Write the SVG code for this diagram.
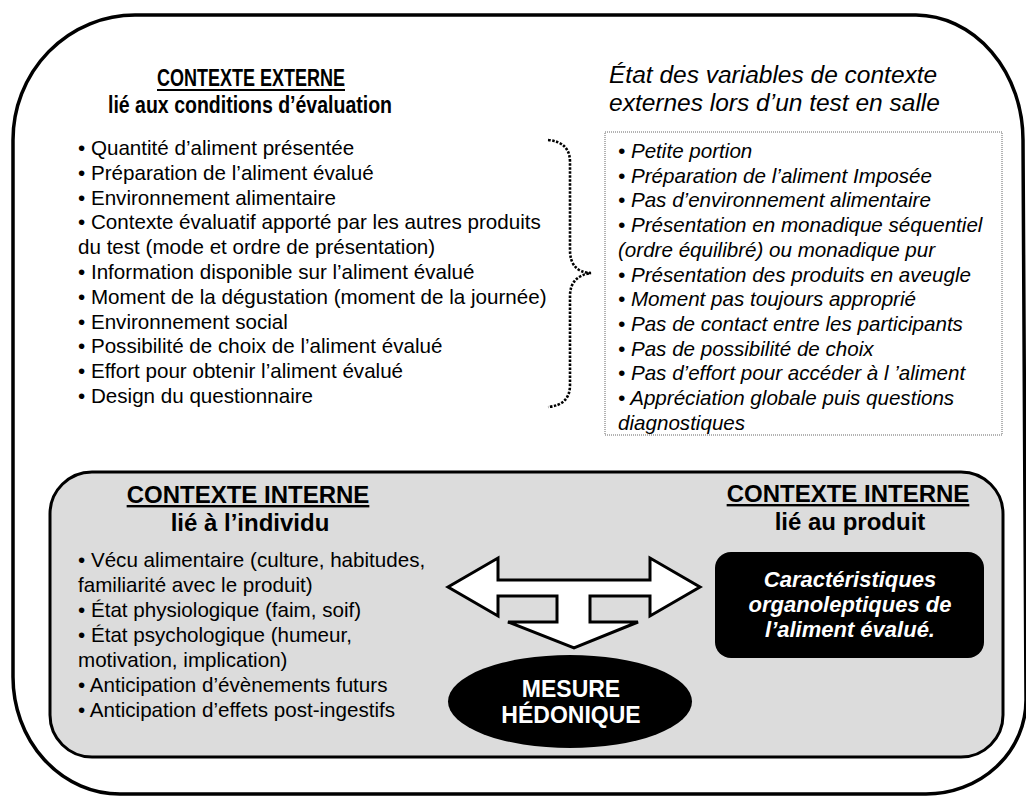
<svg xmlns="http://www.w3.org/2000/svg" width="1026" height="796" viewBox="0 0 1026 796">
<style>
text{font-family:"Liberation Sans",Arial,sans-serif;fill:#000}
.t{font-size:24px;font-weight:bold;text-anchor:middle}
.tn{font-size:23px;font-weight:bold}
.u{text-decoration:underline}
.b{font-size:20.6px}
.i{font-size:20.6px;font-style:italic}
.h{font-size:24.5px;font-style:italic}
.w{fill:#fff;font-weight:bold;text-anchor:middle}
</style>
<rect width="1026" height="796" fill="#fff"/>
<g id="outer">
<path d="M135,15 L916,15 A108,125 0 0 1 1023,140 L1026,700 A100,94 0 0 1 926,794 L120,794 A107,117 0 0 1 13,677 L13,140 A122,125 0 0 1 135,15 Z" fill="none" stroke="#000" stroke-width="3.5"/>
</g>
<g id="externe">
<text class="tn" x="157" y="86" textLength="188" lengthAdjust="spacingAndGlyphs">CONTEXTE EXTERNE</text>
<line x1="157" y1="90" x2="345" y2="90" stroke="#000" stroke-width="2"/>
<text class="tn" x="108" y="113" textLength="284" lengthAdjust="spacingAndGlyphs">lié aux conditions d’évaluation</text>
<text class="b" x="78" y="155">• Quantité d’aliment présentée</text>
<text class="b" x="78" y="179.8">• Préparation de l’aliment évalué</text>
<text class="b" x="78" y="204.6">• Environnement alimentaire</text>
<text class="b" x="78" y="229.4">• Contexte évaluatif apporté par les autres produits</text>
<text class="b" x="78" y="254.2">du test (mode et ordre de présentation)</text>
<text class="b" x="78" y="279">• Information disponible sur l’aliment évalué</text>
<text class="b" x="78" y="303.8">• Moment de la dégustation (moment de la journée)</text>
<text class="b" x="78" y="328.6">• Environnement social</text>
<text class="b" x="78" y="353.4">• Possibilité de choix de l’aliment évalué</text>
<text class="b" x="78" y="378.2">• Effort pour obtenir l’aliment évalué</text>
<text class="b" x="78" y="403">• Design du questionnaire</text>
</g>
<g id="etat">
<text class="h" x="609" y="83">État des variables de contexte</text>
<text class="h" x="609" y="111">externes lors d’un test en salle</text>
<rect x="605" y="132" width="397" height="303" fill="none" stroke="#666" stroke-width="1" stroke-dasharray="1 1"/>
<text class="i" x="618" y="158">• Petite portion</text>
<text class="i" x="618" y="182.7">• Préparation de l’aliment Imposée</text>
<text class="i" x="618" y="207.4">• Pas d’environnement alimentaire</text>
<text class="i" x="618" y="232.1">• Présentation en monadique séquentiel</text>
<text class="i" x="618" y="256.8">(ordre équilibré) ou monadique pur</text>
<text class="i" x="618" y="281.5">• Présentation des produits en aveugle</text>
<text class="i" x="618" y="306.2">• Moment pas toujours approprié</text>
<text class="i" x="618" y="330.9">• Pas de contact entre les participants</text>
<text class="i" x="618" y="355.6">• Pas de possibilité de choix</text>
<text class="i" x="618" y="380.3">• Pas d’effort pour accéder à l ’aliment</text>
<text class="i" x="618" y="405">• Appréciation globale puis questions</text>
<text class="i" x="618" y="429.7">diagnostiques</text>
</g>
<g id="connectors">
<path d="M548,140 Q570,142 570,162 L570,250 Q570,272 591,273 Q570,276 570,296 L570,385 Q570,405 548,407" fill="none" stroke="#000" stroke-width="2.6" stroke-dasharray="2.5 1.5"/>
</g>
<g id="interne">
<rect x="50" y="472" width="953" height="285" rx="42" ry="42" fill="#dcdcdc" stroke="#000" stroke-width="3"/>
</g>
<g id="individu">
<text class="t u" x="248" y="503">CONTEXTE INTERNE</text>
<text class="t" x="250" y="531">lié à l’individu</text>
<text class="b" x="78" y="567">• Vécu alimentaire (culture, habitudes,</text>
<text class="b" x="78" y="592">familiarité avec le produit)</text>
<text class="b" x="78" y="617">• État physiologique (faim, soif)</text>
<text class="b" x="78" y="642">• État psychologique (humeur,</text>
<text class="b" x="78" y="667">motivation, implication)</text>
<text class="b" x="78" y="692">• Anticipation d’évènements futurs</text>
<text class="b" x="78" y="717">• Anticipation d’effets post-ingestifs</text>
</g>
<g id="produit">
<text class="t u" x="848" y="502">CONTEXTE INTERNE</text>
<text class="t" x="850" y="530">lié au produit</text>
<rect x="715" y="552" width="269" height="106" rx="16" ry="16" fill="#000"/>
<text class="w" x="850" y="587" font-size="22" font-style="italic">Caractéristiques</text>
<text class="w" x="850" y="612" font-size="22" font-style="italic">organoleptiques de</text>
<text class="w" x="850" y="637" font-size="22" font-style="italic">l’aliment évalué.</text>
</g>
<g id="fleche">
<path d="M448,587 L498,558 L498,580 L650,580 L650,558 L700,587 L650,616 L650,596 L590,596 L590,622 L638,622 L574,648 L508,622 L557,622 L557,596 L498,596 L498,616 Z" fill="#fff" stroke="#000" stroke-width="3" stroke-linejoin="miter"/>
</g>
<g id="mesure">
<ellipse cx="570" cy="701.5" rx="122" ry="46.5" fill="#000"/>
<text class="w" x="571" y="697" font-size="23">MESURE</text>
<text class="w" x="571" y="723" font-size="23">HÉDONIQUE</text>
</g>
</svg>
